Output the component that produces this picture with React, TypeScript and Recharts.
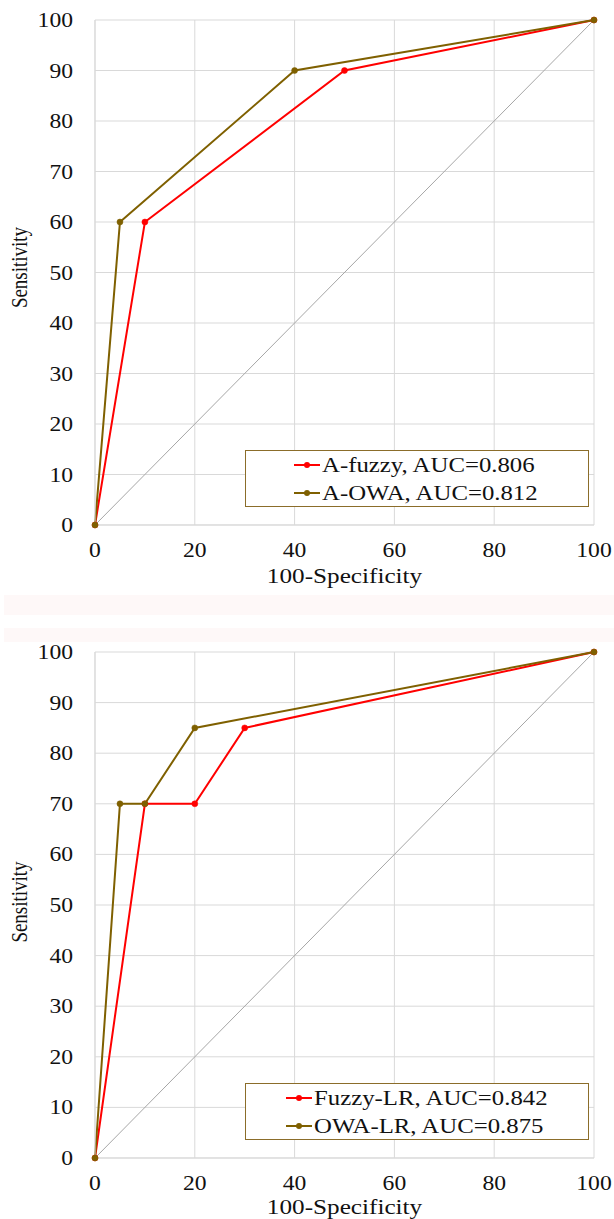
import React from 'react';
import { LineChart, Line, XAxis, YAxis, CartesianGrid, Legend, Label } from 'recharts';

// ---------- data ----------
const xTicks = [0, 20, 40, 60, 80, 100];
const yTicks = [0, 10, 20, 30, 40, 50, 60, 70, 80, 90, 100];

const diagonalX = [0, 100];
const diagonalY = [0, 100];

// Chart 1
const aFuzzyX = [0, 10, 50, 100];
const aFuzzyY = [0, 60, 90, 100];
const aOwaX = [0, 5, 40, 100];
const aOwaY = [0, 60, 90, 100];

// Chart 2
const fuzzyLrX = [0, 10, 20, 30, 100];
const fuzzyLrY = [0, 70, 70, 85, 100];
const owaLrX = [0, 5, 10, 20, 100];
const owaLrY = [0, 70, 70, 85, 100];

const chart1Names = ['A-fuzzy, AUC=0.806', 'A-OWA, AUC=0.812'];
const chart2Names = ['Fuzzy-LR, AUC=0.842', 'OWA-LR, AUC=0.875'];

const xTitle = '100-Specificity';
const yTitle = 'Sensitivity';

// ---------- styles ----------
const FONT = '"Liberation Serif", "Times New Roman", serif';
const SX = 1.18;
const RED = '#FF0000';
const OLIVE = '#7F6000';
const GRID = '#d9d9d9';
const DIAG = '#a6a6a6';
const TEXT = '#111111';

const toPoints = (xs: number[], ys: number[]) => xs.map((x, i) => ({ x, y: ys[i] }));

const YTick = (props: any) => {
  const { x, y, payload } = props;
  return (
    <g transform={`translate(${x},${y}) scale(${SX},1)`}>
      <text x={0} y={0} dy="0.35em" textAnchor="end" fontSize={20} fontFamily={FONT} fill={TEXT}>
        {payload.value}
      </text>
    </g>
  );
};

const XTick = (props: any) => {
  const { x, y, payload } = props;
  return (
    <g transform={`translate(${x},${y + 32}) scale(${SX},1)`}>
      <text x={0} y={0} textAnchor="middle" fontSize={20} fontFamily={FONT} fill={TEXT}>
        {payload.value}
      </text>
    </g>
  );
};

const makeXTitle = (baseOffset: number) => (props: any) => {
  const vb = props.viewBox || {};
  const cx = vb.x + vb.width / 2;
  const by = vb.y + baseOffset;
  return (
    <g transform={`translate(${cx},${by}) scale(${1.2},1)`}>
      <text x={0} y={0} textAnchor="middle" fontSize={21} fontFamily={FONT} fill={TEXT}>
        {xTitle}
      </text>
    </g>
  );
};

const makeYTitle = (shift: number) => (props: any) => {
  const vb = props.viewBox || {};
  const cy = vb.y + vb.height / 2 + shift;
  return (
    <g transform={`translate(${19},${cy}) scale(${SX},1) rotate(-90)`}>
      <text x={0} y={0} dy="0.35em" textAnchor="middle" fontSize={19} fontFamily={FONT} fill={TEXT}>
        {yTitle}
      </text>
    </g>
  );
};

const makeLegend = (padLeft: number, order: string[]) => (props: any) => {
  const items = (props.payload || [])
    .filter((p: any) => p.type !== 'none' && order.indexOf(p.value) >= 0)
    .sort((a: any, b: any) => order.indexOf(a.value) - order.indexOf(b.value));
  return (
    <div
      style={{
        width: '100%',
        height: '100%',
        boxSizing: 'border-box',
        border: '1.5px solid #8B6D2A',
        background: '#ffffff',
        paddingLeft: padLeft,
        display: 'flex',
        flexDirection: 'column',
        justifyContent: 'center',
      }}
    >
      {items.map((it: any) => (
        <div key={it.value} style={{ height: 28, display: 'flex', alignItems: 'center' }}>
          <svg width={26} height={10} style={{ display: 'block', flex: 'none' }}>
            <line x1={0} y1={5} x2={26} y2={5} stroke={it.color} strokeWidth={2} />
            <circle cx={13} cy={5} r={3} fill={it.color} />
          </svg>
          <span
            style={{
              display: 'inline-block',
              marginLeft: 2,
              fontFamily: FONT,
              fontSize: 21,
              color: TEXT,
              whiteSpace: 'nowrap',
              transform: `scaleX(${SX})`,
              transformOrigin: 'left center',
              lineHeight: '28px',
            }}
          >
            {it.value}
          </span>
        </div>
      ))}
    </div>
  );
};

type RocProps = {
  height: number;
  xAxisHeight: number;
  series: { name: string; color: string; data: { x: number; y: number }[] }[];
  legendTop: number;
  legendPad: number;
  xTitleOffset: number;
  yTitleShift: number;
};

const RocChart = ({ height, xAxisHeight, series, legendTop, legendPad, xTitleOffset, yTitleShift }: RocProps) => (
  <LineChart width={614} height={height} margin={{ top: 20, right: 20, bottom: 0, left: 0 }}>
    <CartesianGrid stroke={GRID} strokeWidth={1} />
    <XAxis
      type="number"
      dataKey="x"
      domain={[0, 100]}
      ticks={xTicks}
      height={xAxisHeight}
      tickSize={0}
      tickMargin={0}
      tickLine={false}
      axisLine={{ stroke: GRID }}
      tick={<XTick />}
      interval={0}
    >
      <Label content={makeXTitle(xTitleOffset)} />
    </XAxis>
    <YAxis
      type="number"
      dataKey="y"
      domain={[0, 100]}
      ticks={yTicks}
      width={95}
      tickSize={0}
      tickMargin={22}
      tickLine={false}
      axisLine={{ stroke: GRID }}
      tick={<YTick />}
      interval={0}
    >
      <Label content={makeYTitle(yTitleShift)} />
    </YAxis>
    <Legend
      layout="horizontal"
      verticalAlign="middle"
      align="center"
      wrapperStyle={{ position: 'absolute', left: 245, top: legendTop, width: 344, height: 57 }}
      content={makeLegend(legendPad, series.map((s) => s.name))}
    />
    <Line
      data={toPoints(diagonalX, diagonalY)}
      dataKey="y"
      name="diagonal"
      stroke={DIAG}
      strokeWidth={1}
      dot={false}
      activeDot={false}
      legendType="none"
      isAnimationActive={false}
    />
    {series.map((s) => (
      <Line
        key={s.name}
        data={s.data}
        dataKey="y"
        name={s.name}
        stroke={s.color}
        strokeWidth={2}
        dot={{ r: 3, fill: s.color, stroke: s.color, strokeWidth: 0.5 }}
        activeDot={false}
        isAnimationActive={false}
      />
    ))}
  </LineChart>
);

export default function App() {
  const series1 = [
    { name: chart1Names[0], color: RED, data: toPoints(aFuzzyX, aFuzzyY) },
    { name: chart1Names[1], color: OLIVE, data: toPoints(aOwaX, aOwaY) },
  ];
  const series2 = [
    { name: chart2Names[0], color: RED, data: toPoints(fuzzyLrX, fuzzyLrY) },
    { name: chart2Names[1], color: OLIVE, data: toPoints(owaLrX, owaLrY) },
  ];
  return (
    <div style={{ position: 'absolute', left: 0, top: 0, width: 614, height: 1219, background: '#ffffff', overflow: 'hidden' }}>
      <div style={{ position: 'absolute', left: 4, top: 595, width: 610, height: 20, background: '#fef8f8' }} />
      <div style={{ position: 'absolute', left: 4, top: 628, width: 610, height: 14, background: '#fef8f8' }} />
      <div style={{ position: 'absolute', left: 0, top: 0 }}>
        <RocChart
          height={600}
          xAxisHeight={75}
          series={series1}
          legendTop={450}
          legendPad={48}
          xTitleOffset={58}
          yTitleShift={-5}
        />
      </div>
      <div style={{ position: 'absolute', left: 0, top: 632 }}>
        <RocChart
          height={587}
          xAxisHeight={61}
          series={series2}
          legendTop={451}
          legendPad={40}
          xTitleOffset={56}
          yTitleShift={-3}
        />
      </div>
    </div>
  );
}
